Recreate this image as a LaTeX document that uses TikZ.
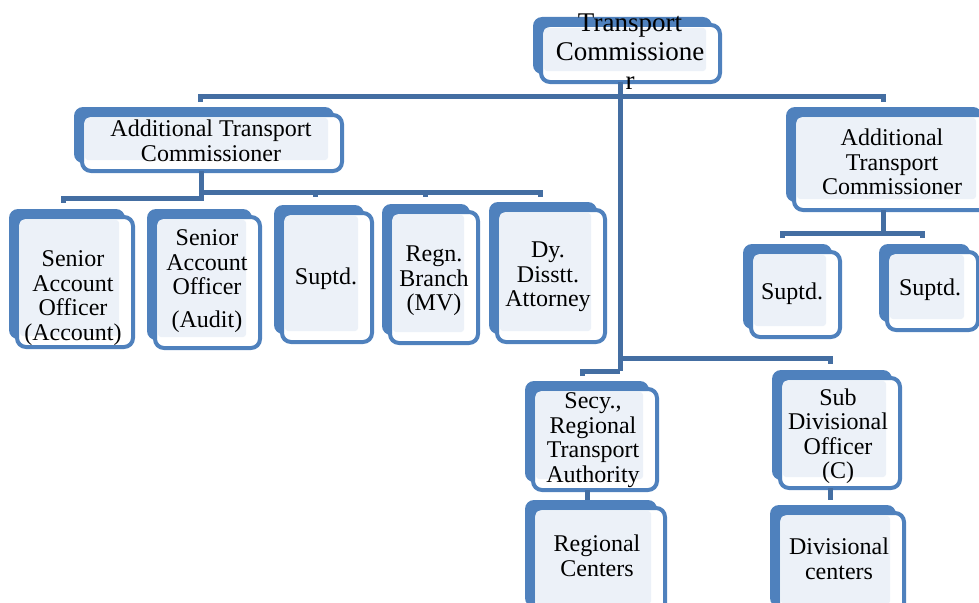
\documentclass[tikz,border=0pt]{standalone}
\usepackage{fontspec}
\setmainfont{Liberation Serif}
\usetikzlibrary{calc}

\definecolor{boxblue}{RGB}{79,129,189}
\definecolor{linkblue}{RGB}{68,110,162}
\definecolor{panel}{RGB}{236,241,248}

\tikzset{
  frame/.style={draw=boxblue, line width=4pt, fill=white, rounded corners=9pt,
                inner sep=0pt, outer sep=0pt},
  link/.style={draw=linkblue, line width=5pt},
  label/.style={font=\fontsize{24}{24.5}\selectfont, align=center, inner sep=0pt},
  biglabel/.style={font=\fontsize{27}{29}\selectfont, align=center, inner sep=0pt}
}

% Office box: shadow plate behind, white frame in front, pale panel inside.
% Arguments: name, left, top, right, bottom of the front frame.
\newcommand\orgbox[5]{%
  \fill[boxblue, rounded corners=9pt] (#2-8,#3-8) rectangle (#4-8,#5-8);
  \pgfmathsetmacro\boxw{#4-#2}\pgfmathsetmacro\boxh{#5-#3}
  \node[frame, minimum width=\boxw pt, minimum height=\boxh pt, anchor=north west]
       (#1) at (#2,#3) {};
  \fill[panel, rounded corners=3pt] (#2+3,#3+3) rectangle (#4-14,#5-11);
}

\begin{document}
\begin{tikzpicture}[x=1pt, y=-1pt]
\useasboundingbox (0,0) rectangle (979,602);
\clip (0,0) rectangle (979,602);

% ---- boxes ----
\orgbox{tc}{541}{25}{720}{82}
\orgbox{lat}{82}{115}{342}{171}
\orgbox{rat}{794}{115}{990}{210}
\orgbox{saoa}{17}{217}{133}{347}
\orgbox{saob}{155}{217}{260}{348}
\orgbox{supa}{282}{213}{372}{342}
\orgbox{regn}{390}{212}{478}{343}
\orgbox{dyat}{497}{210}{605}{342}
\orgbox{supb}{751}{252}{840}{337}
\orgbox{supc}{887}{252}{978}{330}
\orgbox{secy}{533}{389}{657}{490}
\orgbox{regc}{533}{508}{665}{615}
\orgbox{sdo}{780}{378}{900}{488}
\orgbox{divc}{778}{513}{904}{615}

% ---- junction points ----
\coordinate (topL) at (200,96);
\coordinate (topR) at (883,96);
\coordinate (trunk) at (620,96);
\coordinate (lowK) at (620,371);
\coordinate (lowL) at (582,371);
\coordinate (lowR) at (830,358);
\coordinate (latJ) at (201,198);
\coordinate (latL) at (63,198);
\coordinate (latR0) at (201,192);
\coordinate (latR) at (540,192);
\coordinate (tickA) at (315,192);
\coordinate (tickB) at (425,192);
\coordinate (ratJ) at (883,233);
\coordinate (ratL) at (782,233);
\coordinate (ratR) at (922,233);
\coordinate (secyJ) at (587,500);
\coordinate (sdoJ) at (830,500);

% ---- connectors ----
\draw[link] (tc.south -| trunk) -- (lowK);
\draw[link] ($(topL)+(0,6)$) -- (topL) -- (topR) -- ($(topR)+(0,6)$);
\draw[link] ($(lowL)+(0,5)$) -- (lowL) -- (lowK);
\draw[link] (lowK |- lowR) -- (lowR) -- ($(lowR)+(0,6)$);

\draw[link] (lat.south -| latJ) -- ($(latJ)+(0,3)$);
\draw[link] (latJ) -- (latL) -- ($(latL)+(0,5)$);
\draw[link] (latR0) -- (latR) -- ($(latR)+(0,5)$);
\draw[link] (tickA) -- ($(tickA)+(0,5)$);
\draw[link] (tickB) -- ($(tickB)+(0,5)$);

\draw[link] (rat.south -| ratJ) -- (ratJ);
\draw[link] ($(ratL)+(0,5)$) -- (ratL) -- (ratR) -- ($(ratR)+(0,5)$);

\draw[link] (secy.south -| secyJ) -- (secyJ);
\draw[link] (sdo.south -| sdoJ) -- (sdoJ);

% ---- texts ----
\node[biglabel] (tc-t) at (630,52) {Transport\\Commissione\\r};
\node[label] (lat-t) at (211,141) {Additional Transport\\Commissioner};
\node[label] (rat-t) at (892,162) {Additional\\Transport\\Commissioner};
\node[label] (saoa-t) at (73,298) {Senior\\Account\\Officer\\(Account)};
\node[label] (saob-t) at (207,281) {Senior\\Account\\Officer\\[8pt](Audit)};
\node[label] (supa-t) at (326,279) {Suptd.};
\node[label] (regn-t) at (434,281) {Regn.\\Branch\\(MV)};
\node[label] (dyat-t) at (548,277) {Dy.\\Disstt.\\Attorney};
\node[label] (supb-t) at (792,294) {Suptd.};
\node[label] (supc-t) at (930,290) {Suptd.};
\node[label] (secy-t) at (593,440) {Secy.,\\Regional\\Transport\\Authority};
\node[label] (regc-t) at (597,556) {Regional\\Centers};
\node[label] (sdo-t) at (838,436) {Sub\\Divisional\\Officer\\(C)};
\node[label] (divc-t) at (839,559) {Divisional\\centers};
\end{tikzpicture}
\end{document}
